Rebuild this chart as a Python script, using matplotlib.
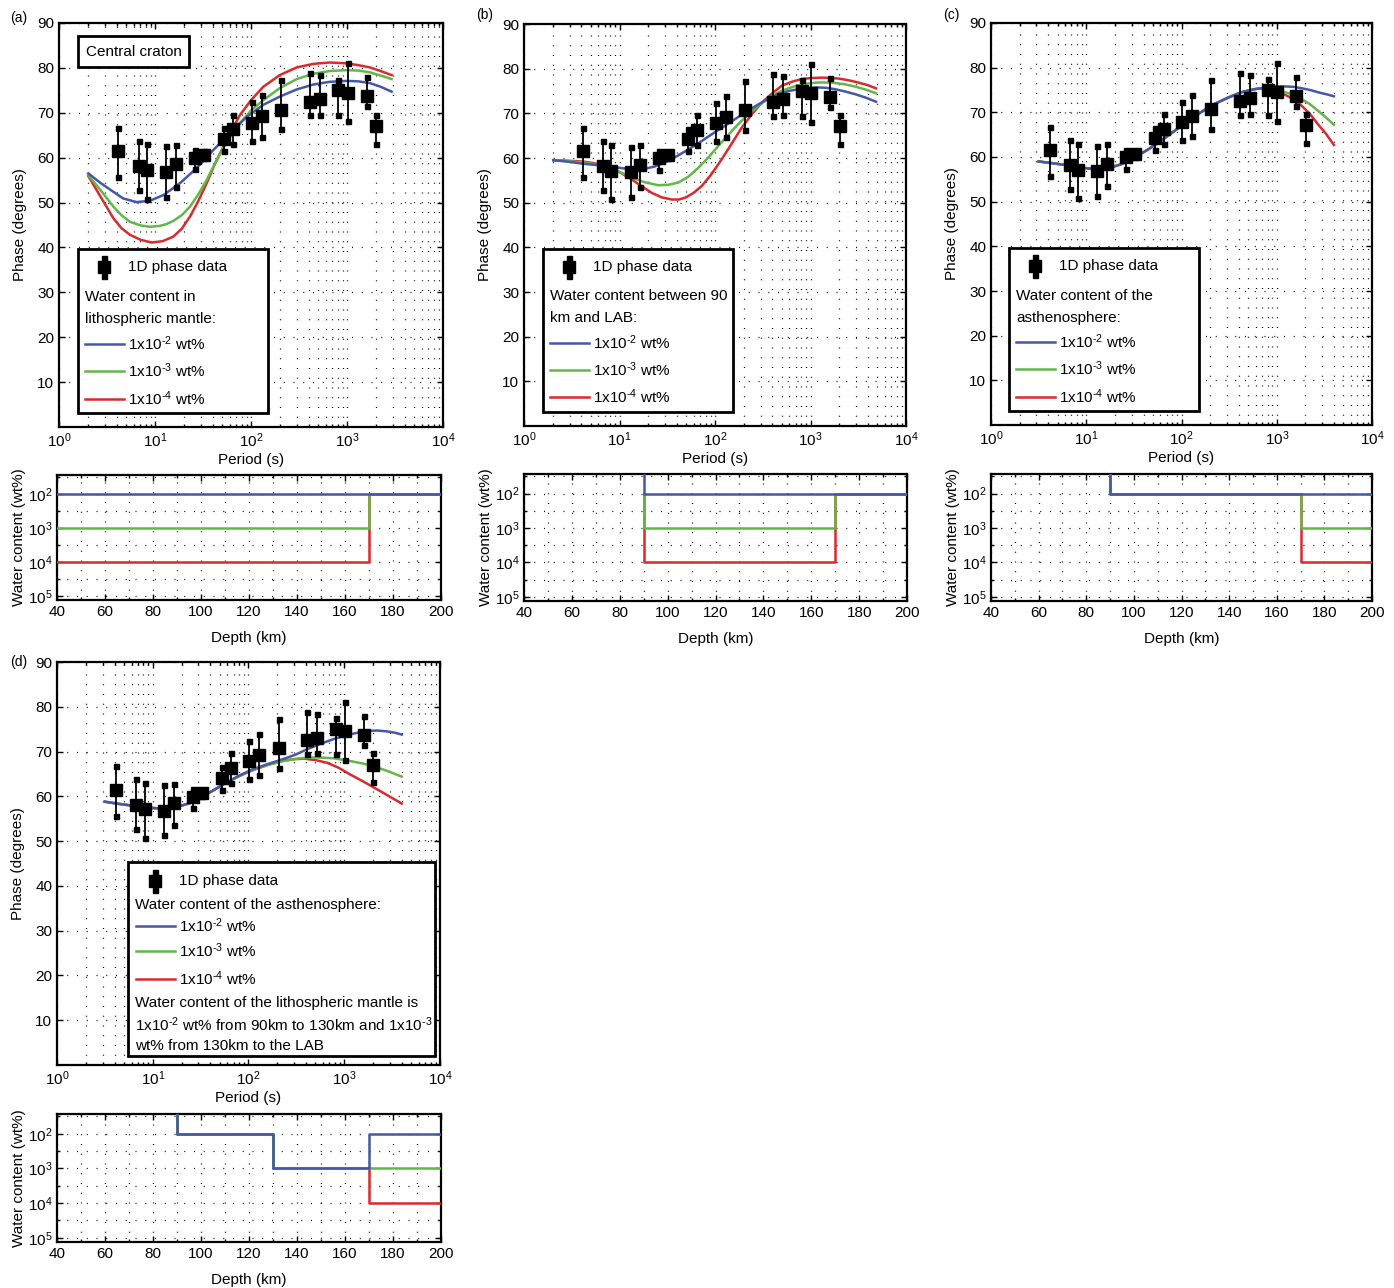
import numpy as np
import matplotlib
matplotlib.use('Agg')
import matplotlib.pyplot as plt
from matplotlib import font_manager
from matplotlib.patches import Rectangle
from matplotlib.lines import Line2D
from matplotlib.ticker import FixedLocator, FixedFormatter, NullFormatter, LogLocator, MultipleLocator

names = {f.name for f in font_manager.fontManager.ttflist}
if 'Liberation Sans Narrow' in names:
    FONT, FS = 'Liberation Sans Narrow', 12.5
else:
    FONT, FS = 'Liberation Sans', 11
plt.rcParams['font.family'] = [FONT, 'DejaVu Sans']
plt.rcParams['mathtext.fontset'] = 'custom'
plt.rcParams['mathtext.rm'] = FONT
plt.rcParams['mathtext.it'] = FONT
plt.rcParams['mathtext.bf'] = FONT

# ---------------- data ----------------
period = [4.16, 6.74, 8.24, 13.1, 16.5, 26.1, 32.4, 52.5, 65.3, 102, 130, 206, 409, 521, 811, 1016, 1608, 2014]
phase = [61.5, 58.1, 57.2, 56.8, 58.5, 59.9, 60.7, 64.2, 66.3, 67.8, 69.2, 70.7, 72.5, 73.1, 75.1, 74.5, 73.7, 67.1]
phase_upper = [66.7, 63.8, 63.0, 62.5, 62.8, 61.6, 61.4, 66.6, 69.6, 72.3, 73.9, 77.3, 78.8, 78.4, 77.4, 81.1, 77.9, 69.6]
phase_lower = [55.7, 52.8, 50.8, 51.3, 53.5, 57.4, 60.0, 61.5, 63.0, 63.8, 64.7, 66.3, 69.4, 69.6, 69.4, 68.1, 71.4, 63.1]

# model curves: log10(period) and phase
a_blue_logT = [0.305, 0.43, 0.566, 0.67, 0.809, 0.948, 1.09, 1.26, 1.43, 1.607, 1.78, 1.955, 2.13, 2.30, 2.476, 2.65, 2.82, 3.0, 3.12, 3.24, 3.35, 3.465]
a_blue_phase = [56.5, 54.4, 52.4, 50.9, 50.1, 50.4, 51.7, 54.3, 57.6, 61.7, 65.4, 69.1, 71.8, 73.6, 75.2, 76.3, 76.9, 77.1, 77.0, 76.6, 75.8, 74.7]
a_green_logT = [0.305, 0.45, 0.566, 0.65, 0.74, 0.85, 0.948, 1.05, 1.12, 1.19, 1.28, 1.365, 1.45, 1.538, 1.62, 1.71, 1.80, 1.885, 2.0, 2.128, 2.3, 2.476, 2.65, 2.82, 3.0, 3.12, 3.24, 3.35, 3.465]
a_green_phase = [56.1, 52.3, 49.1, 47.2, 45.7, 44.9, 44.6, 44.8, 45.2, 45.9, 47.2, 49.1, 51.8, 55.0, 58.5, 62.1, 65.2, 67.7, 70.5, 72.8, 75.5, 77.5, 78.7, 79.3, 79.5, 79.4, 79.0, 78.3, 77.5]
a_red_logT = [0.305, 0.38, 0.45, 0.566, 0.65, 0.74, 0.85, 0.965, 1.08, 1.19, 1.28, 1.365, 1.45, 1.538, 1.62, 1.71, 1.80, 1.885, 2.0, 2.128, 2.3, 2.476, 2.65, 2.82, 3.0, 3.12, 3.24, 3.35, 3.465]
a_red_phase = [55.9, 53.2, 50.7, 46.5, 44.3, 42.8, 41.7, 41.1, 41.4, 42.4, 44.2, 46.9, 50.3, 54.3, 58.4, 62.4, 66.2, 69.5, 72.8, 75.8, 78.4, 80.1, 80.9, 81.2, 81.0, 80.6, 80.1, 79.3, 78.4]

b_blue_logT = [0.307, 0.45, 0.621, 0.77, 0.918, 1.03, 1.128, 1.267, 1.37, 1.476, 1.60, 1.72, 1.84, 1.965, 2.09, 2.21, 2.33, 2.454, 2.56, 2.663, 2.77, 2.873, 2.98, 3.08, 3.17, 3.257, 3.36, 3.466, 3.58, 3.686]
b_blue_phase = [59.5, 59.2, 58.7, 58.4, 58.1, 57.7, 57.5, 57.6, 58.1, 59.0, 60.4, 61.9, 63.5, 65.3, 67.0, 68.7, 70.4, 72.0, 73.3, 74.3, 75.0, 75.4, 75.7, 75.8, 75.7, 75.4, 74.9, 74.3, 73.5, 72.6]
b_green_logT = [0.307, 0.45, 0.621, 0.77, 0.918, 1.02, 1.128, 1.26, 1.406, 1.51, 1.616, 1.72, 1.825, 1.93, 2.035, 2.14, 2.244, 2.35, 2.454, 2.56, 2.663, 2.77, 2.873, 2.98, 3.08, 3.17, 3.257, 3.36, 3.466, 3.58, 3.686]
b_green_phase = [59.5, 59.3, 59.0, 58.5, 57.6, 56.7, 55.6, 54.6, 53.9, 54.0, 54.5, 55.8, 57.8, 60.1, 62.7, 65.2, 67.6, 69.8, 71.7, 73.3, 74.7, 75.6, 76.3, 76.7, 76.9, 76.9, 76.8, 76.5, 76.0, 75.3, 74.5]
b_red_logT = [0.307, 0.45, 0.621, 0.77, 0.918, 1.02, 1.128, 1.23, 1.337, 1.44, 1.547, 1.62, 1.686, 1.77, 1.86, 1.96, 2.07, 2.18, 2.28, 2.39, 2.49, 2.60, 2.70, 2.81, 2.91, 3.01, 3.12, 3.21, 3.29, 3.40, 3.50, 3.60, 3.686]
b_red_phase = [59.5, 59.4, 59.2, 58.7, 57.8, 56.6, 55.2, 53.7, 52.2, 51.2, 50.7, 50.7, 51.1, 52.1, 53.7, 56.3, 59.7, 63.4, 66.8, 69.9, 72.4, 74.5, 76.2, 77.1, 77.7, 77.9, 78.0, 77.9, 77.8, 77.4, 76.9, 76.3, 75.6]

c_blue_logT = [0.50, 0.65, 0.815, 0.95, 1.094, 1.234, 1.37, 1.51, 1.65, 1.79, 1.93, 2.07, 2.21, 2.35, 2.49, 2.63, 2.77, 2.91, 3.00, 3.09, 3.18, 3.26, 3.35, 3.45, 3.53, 3.60]
c_blue_phase = [59.0, 58.6, 58.1, 57.6, 57.3, 57.5, 58.4, 59.9, 61.7, 63.7, 65.9, 68.1, 70.1, 71.9, 73.3, 74.5, 75.2, 75.6, 75.8, 75.8, 75.7, 75.4, 75.0, 74.4, 74.0, 73.6]
c_green_logT = [0.50, 0.65, 0.815, 0.95, 1.094, 1.234, 1.37, 1.51, 1.65, 1.79, 1.93, 2.07, 2.21, 2.35, 2.49, 2.63, 2.72, 2.80, 2.91, 3.00, 3.09, 3.18, 3.26, 3.35, 3.43, 3.52, 3.60]
c_green_phase = [59.0, 58.6, 58.1, 57.6, 57.3, 57.5, 58.4, 59.9, 61.7, 63.7, 65.9, 68.1, 70.1, 71.9, 73.3, 74.5, 75.0, 75.3, 75.4, 75.1, 74.5, 73.9, 73.0, 71.8, 70.4, 68.8, 67.2]
c_red_logT = [0.50, 0.65, 0.815, 0.95, 1.094, 1.234, 1.37, 1.51, 1.65, 1.79, 1.93, 2.07, 2.21, 2.35, 2.49, 2.63, 2.72, 2.80, 2.91, 3.00, 3.09, 3.18, 3.26, 3.35, 3.43, 3.52, 3.60]
c_red_phase = [59.0, 58.6, 58.1, 57.6, 57.3, 57.5, 58.4, 59.9, 61.7, 63.7, 65.9, 68.1, 70.1, 71.9, 73.3, 74.5, 75.0, 75.3, 75.2, 74.7, 73.9, 72.9, 71.5, 69.6, 67.4, 65.1, 62.7]

d_blue_logT = [0.50, 0.65, 0.794, 0.93, 1.07, 1.18, 1.28, 1.39, 1.49, 1.63, 1.77, 1.91, 2.05, 2.2, 2.36, 2.49, 2.61, 2.75, 2.89, 3.03, 3.16, 3.25, 3.34, 3.45, 3.53, 3.60]
d_blue_phase = [58.8, 58.3, 57.9, 57.5, 57.3, 57.4, 57.8, 58.5, 59.6, 61.3, 63.1, 64.7, 66.1, 67.2, 68.3, 69.3, 70.5, 71.7, 72.8, 73.7, 74.3, 74.6, 74.7, 74.5, 74.2, 73.8]
d_green_logT = [0.50, 0.65, 0.794, 0.93, 1.07, 1.18, 1.28, 1.39, 1.49, 1.63, 1.77, 1.91, 2.05, 2.2, 2.36, 2.54, 2.71, 2.89, 3.06, 3.2, 3.34, 3.47, 3.60]
d_green_phase = [58.8, 58.3, 57.9, 57.5, 57.3, 57.4, 57.8, 58.5, 59.6, 61.3, 63.1, 64.6, 65.9, 67.0, 67.9, 68.5, 68.7, 68.5, 67.9, 67.3, 66.5, 65.5, 64.4]
d_red_logT = [0.50, 0.65, 0.794, 0.93, 1.07, 1.18, 1.28, 1.39, 1.49, 1.63, 1.77, 1.91, 2.05, 2.2, 2.36, 2.47, 2.58, 2.70, 2.82, 2.94, 3.06, 3.2, 3.34, 3.47, 3.60]
d_red_phase = [58.8, 58.3, 57.9, 57.5, 57.3, 57.4, 57.8, 58.5, 59.6, 61.3, 63.1, 64.6, 65.9, 67.0, 67.9, 68.3, 68.4, 68.1, 67.5, 66.4, 64.9, 63.3, 61.6, 60.0, 58.4]

# water content profiles (depth km, wt%)
a_blue_depth, a_blue_wc = [40, 200], [1e-2, 1e-2]
a_green_depth, a_green_wc = [40, 170, 170, 200], [1e-3, 1e-3, 1e-2, 1e-2]
a_red_depth, a_red_wc = [40, 170, 170, 200], [1e-4, 1e-4, 1e-2, 1e-2]
b_blue_depth, b_blue_wc = [90, 90, 200], [1.0, 1e-2, 1e-2]
b_green_depth, b_green_wc = [90, 90, 170, 170, 200], [1e-2, 1e-3, 1e-3, 1e-2, 1e-2]
b_red_depth, b_red_wc = [90, 90, 170, 170, 200], [1e-2, 1e-4, 1e-4, 1e-2, 1e-2]
c_blue_depth, c_blue_wc = [90, 90, 200], [1.0, 1e-2, 1e-2]
c_green_depth, c_green_wc = [90, 90, 170, 170, 200], [1.0, 1e-2, 1e-2, 1e-3, 1e-3]
c_red_depth, c_red_wc = [90, 90, 170, 170, 200], [1.0, 1e-2, 1e-2, 1e-4, 1e-4]
d_blue_depth, d_blue_wc = [90, 90, 130, 130, 170, 170, 200], [1.0, 1e-2, 1e-2, 1e-3, 1e-3, 1e-2, 1e-2]
d_green_depth, d_green_wc = [90, 90, 130, 130, 200], [1.0, 1e-2, 1e-2, 1e-3, 1e-3]
d_red_depth, d_red_wc = [90, 90, 130, 130, 170, 170, 200], [1.0, 1e-2, 1e-2, 1e-3, 1e-3, 1e-4, 1e-4]

wc_ticks = [1e-5, 1e-4, 1e-3, 1e-2]
wc_ticklabels = ['$10^5$', '$10^4$', '$10^3$', '$10^2$']
legend_labels = [r'1x10$^{\text{-}2}$ wt%', r'1x10$^{\text{-}3}$ wt%', r'1x10$^{\text{-}4}$ wt%']

BLUE, GREEN, RED = '#4358A8', '#63B64A', '#D92A2C'

# ---------------- figure ----------------
W, H = 1394, 1288
fig = plt.figure(figsize=(W / 100, H / 100), dpi=100)

def fx(X):
    return X / W

def fy(Y):
    return 1 - Y / H

def make_ax(l, t, r, b):
    return fig.add_axes([l / W, 1 - b / H, (r - l) / W, (b - t) / H])

DOT = (0, (0.8, 7))

def style_common(ax):
    for s in ax.spines.values():
        s.set_linewidth(1.6)
    ax.tick_params(which='both', direction='in', top=True, right=True, labelsize=FS, width=1.0)
    ax.tick_params(which='major', length=4)
    ax.tick_params(which='minor', length=2)

def phase_panel(box, curves):
    ax = make_ax(*box)
    ax.set_xscale('log')
    ax.set_xlim(1, 1e4)
    ax.set_ylim(0, 90)
    ax.yaxis.set_major_locator(FixedLocator([10, 20, 30, 40, 50, 60, 70, 80, 90]))
    ax.xaxis.set_major_locator(LogLocator(base=10, numticks=10))
    ax.xaxis.set_minor_locator(LogLocator(base=10, subs=np.arange(2, 10), numticks=20))
    ax.xaxis.set_minor_formatter(NullFormatter())
    ax.xaxis.grid(True, which='both', linestyle=DOT, color='k', lw=0.9)
    ax.yaxis.grid(True, which='major', linestyle=DOT, color='k', lw=0.9)
    style_common(ax)
    for logT, ph, col in curves:
        ax.plot(10 ** np.array(logT), ph, color=col, lw=1.8, zorder=3,
                solid_joinstyle='round')
    ax.vlines(period, phase_lower, phase_upper, color='black', lw=1.3, zorder=4)
    ax.plot(period, phase_upper, 's', color='black', ms=3.6, zorder=4)
    ax.plot(period, phase_lower, 's', color='black', ms=3.6, zorder=4)
    ax.plot(period, phase, 's', color='black', ms=8, zorder=5)
    ax.set_xlabel('Period (s)', fontsize=FS, labelpad=2)
    ax.set_ylabel('Phase (degrees)', fontsize=FS, labelpad=7)
    return ax

def wc_panel(box, profiles):
    ax = make_ax(*box)
    ax.set_yscale('log')
    ax.set_xlim(40, 200)
    ax.set_ylim(10 ** -5.12, 10 ** -1.43)
    ax.xaxis.set_major_locator(MultipleLocator(20))
    ax.xaxis.set_minor_locator(MultipleLocator(10))
    ax.yaxis.set_major_locator(FixedLocator(wc_ticks))
    ax.yaxis.set_major_formatter(FixedFormatter(wc_ticklabels))
    ax.yaxis.set_minor_locator(FixedLocator([10 ** -4.5, 10 ** -3.5, 10 ** -2.5, 10 ** -1.5]))
    ax.yaxis.set_minor_formatter(NullFormatter())
    ax.xaxis.grid(True, which='both', linestyle=DOT, color='k', lw=0.9)
    ax.yaxis.grid(True, which='both', linestyle=DOT, color='k', lw=0.9)
    style_common(ax)
    for d, w, col in profiles:
        ax.plot(d, w, color=col, lw=1.8, zorder=3)
    ax.set_xlabel('Depth (km)', fontsize=FS, labelpad=9)
    ax.set_ylabel('Water content (wt%)', fontsize=FS, labelpad=1)
    return ax

def legend_box(ax, x0, y0, x1, y1):
    ax.add_patch(Rectangle((fx(x0), fy(y1)), (x1 - x0) / W, (y1 - y0) / H,
                           transform=fig.transFigure, facecolor='white',
                           edgecolor='black', lw=2.0, zorder=10, clip_on=False))

def ltext(ax, X, Y, s):
    ax.text(fx(X), fy(Y), s, transform=fig.transFigure, ha='left', va='center',
            fontsize=FS, zorder=11, clip_on=False)

def lline(ax, X0, X1, Y, col):
    ax.add_line(Line2D([fx(X0), fx(X1)], [fy(Y), fy(Y)], transform=fig.transFigure,
                       color=col, lw=1.8, zorder=11, clip_on=False))

def lmarker(ax, X, Y):
    ax.add_line(Line2D([fx(X), fx(X)], [fy(Y - 9), fy(Y + 9)], transform=fig.transFigure,
                       color='black', lw=1.3, zorder=11, clip_on=False))
    ax.add_line(Line2D([fx(X), fx(X)], [fy(Y - 9), fy(Y + 9)], transform=fig.transFigure,
                       color='black', lw=0, marker='s', ms=3.6, zorder=11, clip_on=False))
    ax.add_line(Line2D([fx(X)], [fy(Y)], transform=fig.transFigure,
                       color='black', lw=0, marker='s', ms=8, zorder=12, clip_on=False))

def standard_legend(ax, x0, y0, x1, y1, title1, title2, rows_y, title_y):
    legend_box(ax, x0, y0, x1, y1)
    lmarker(ax, x0 + 26, y0 + 18)
    ltext(ax, x0 + 50, y0 + 18, '1D phase data')
    ltext(ax, x0 + 7, title_y[0], title1)
    ltext(ax, x0 + 7, title_y[1], title2)
    for yy, col, lab in zip(rows_y, [BLUE, GREEN, RED], legend_labels):
        lline(ax, x0 + 7, x0 + 46, yy, col)
        ltext(ax, x0 + 50, yy, lab)

# ---- panel (a)
axa = phase_panel((59, 23, 443, 427), [(a_red_logT, a_red_phase, RED),
                                        (a_green_logT, a_green_phase, GREEN),
                                        (a_blue_logT, a_blue_phase, BLUE)])
legend_box(axa, 78, 36, 189, 67)
axa.text(fx(133.5), fy(51.5), 'Central craton', transform=fig.transFigure, ha='center',
         va='center', fontsize=FS, zorder=11)
standard_legend(axa, 78, 249, 268, 413, 'Water content in', 'lithospheric mantle:',
                [344, 371, 399], [297, 319])
wc_panel((57, 475, 441, 600), [(a_red_depth, a_red_wc, RED),
                               (a_green_depth, a_green_wc, GREEN),
                               (a_blue_depth, a_blue_wc, BLUE)])

# ---- panel (b)
axb = phase_panel((524, 24, 906, 426), [(b_red_logT, b_red_phase, RED),
                                         (b_green_logT, b_green_phase, GREEN),
                                         (b_blue_logT, b_blue_phase, BLUE)])
standard_legend(axb, 543, 249, 733, 412, 'Water content between 90', 'km and LAB:',
                [343, 370, 397], [296, 318])
wc_panel((524, 474, 907, 601), [(b_red_depth, b_red_wc, RED),
                                (b_green_depth, b_green_wc, GREEN),
                                (b_blue_depth, b_blue_wc, BLUE)])

# ---- panel (c)
axc = phase_panel((991, 23, 1372, 425), [(c_red_logT, c_red_phase, RED),
                                          (c_green_logT, c_green_phase, GREEN),
                                          (c_blue_logT, c_blue_phase, BLUE)])
standard_legend(axc, 1009, 248, 1199, 411, 'Water content of the', 'asthenosphere:',
                [342, 369, 397], [296, 318])
wc_panel((991, 474, 1372, 601), [(c_red_depth, c_red_wc, RED),
                                 (c_green_depth, c_green_wc, GREEN),
                                 (c_blue_depth, c_blue_wc, BLUE)])

# ---- panel (d)
axd = phase_panel((57, 662, 440, 1065), [(d_red_logT, d_red_phase, RED),
                                          (d_green_logT, d_green_phase, GREEN),
                                          (d_blue_logT, d_blue_phase, BLUE)])
legend_box(axd, 128, 862, 435, 1056)
lmarker(axd, 155, 881)
ltext(axd, 179, 881, '1D phase data')
ltext(axd, 135, 905, 'Water content of the asthenosphere:')
for yy, col, lab in zip([926, 951, 979], [BLUE, GREEN, RED], legend_labels):
    lline(axd, 136, 175, yy, col)
    ltext(axd, 179, yy, lab)
ltext(axd, 135, 1003, 'Water content of the lithospheric mantle is')
ltext(axd, 135, 1025, r'1x10$^{\text{-}2}$ wt% from 90km to 130km and 1x10$^{\text{-}3}$')
ltext(axd, 135, 1046, 'wt% from 130km to the LAB')
wc_panel((57, 1114, 441, 1242), [(d_red_depth, d_red_wc, RED),
                                 (d_green_depth, d_green_wc, GREEN),
                                 (d_blue_depth, d_blue_wc, BLUE)])

# panel letters
for X, Y, s in [(10, 18, '(a)'), (476, 15, '(b)'), (943, 15, '(c)'), (10, 662, '(d)')]:
    fig.text(fx(X), fy(Y), s, ha='left', va='center', fontsize=FS - 1)

fig.savefig('out.png', dpi=100)
